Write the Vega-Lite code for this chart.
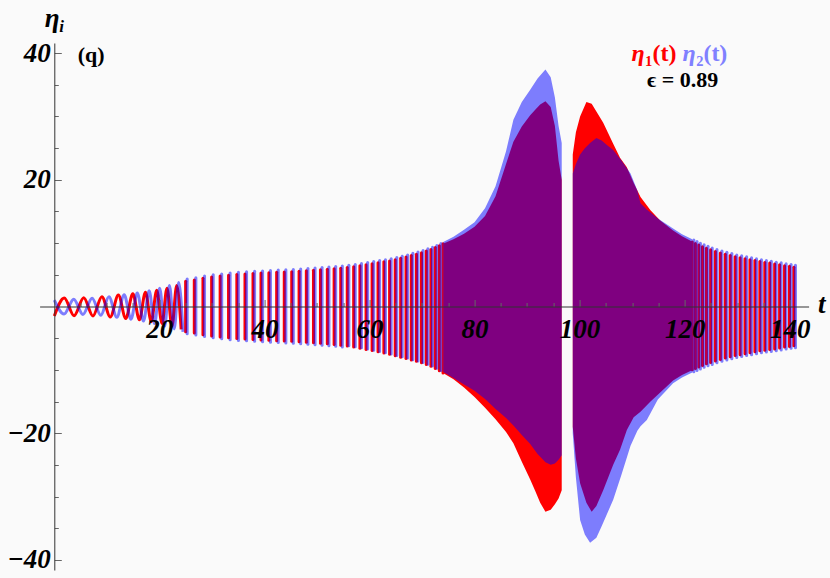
{
  "$schema": "https://vega.github.io/schema/vega-lite/v6.json",
  "autosize": {"type": "none"},
  "padding": {"left": 39.6, "top": 43, "right": 21.4, "bottom": 8},
  "width": 769,
  "height": 527,
  "background": "#FAFAFA",
  "config": {
    "view": {"stroke": null},
    "axis": {
      "grid": false,
      "domainColor": "#333333",
      "domainWidth": 1,
      "tickColor": "#666666",
      "tickWidth": 1,
      "labelFont": "Liberation Serif",
      "labelFontSize": 27,
      "labelFontWeight": "bold",
      "labelFontStyle": "italic",
      "labelColor": "#000000",
      "labelFlush": false,
      "labelOverlap": false
    }
  },
  "datasets": {
    "redLine": [
      {"t": 0, "v": -1.5}, {"t": 1.9, "v": 1.35}, {"t": 3.75, "v": -1.45}, {"t": 5.6, "v": 1.4},
      {"t": 7.35, "v": -1.5}, {"t": 9.05, "v": 1.55}, {"t": 10.65, "v": -1.65}, {"t": 12.2, "v": 1.8},
      {"t": 13.6, "v": -1.9}, {"t": 14.95, "v": 2.0}, {"t": 16.2, "v": -2.1}, {"t": 17.35, "v": 2.25},
      {"t": 18.45, "v": -2.4}, {"t": 19.5, "v": 2.55}, {"t": 20.5, "v": -2.7}, {"t": 21.45, "v": 2.9},
      {"t": 22.4, "v": -3.1}, {"t": 23.3, "v": 3.3}, {"t": 24.15, "v": -3.6}
    ],
    "blueLine": [
      {"t": 0, "v": 1.0}, {"t": 1.85, "v": -1.2}, {"t": 3.7, "v": 1.15}, {"t": 5.45, "v": -1.25},
      {"t": 7.2, "v": 1.3}, {"t": 8.85, "v": -1.4}, {"t": 10.4, "v": 1.55}, {"t": 11.9, "v": -1.7},
      {"t": 13.3, "v": 1.85}, {"t": 14.6, "v": -2.0}, {"t": 15.8, "v": 2.15}, {"t": 16.98, "v": -2.3},
      {"t": 18.05, "v": 2.5}, {"t": 19.08, "v": -2.7}, {"t": 20.05, "v": 2.9}, {"t": 21.0, "v": -3.1},
      {"t": 21.91, "v": 3.3}, {"t": 22.82, "v": -3.55}, {"t": 23.68, "v": 3.8}, {"t": 24.5, "v": -4.0}
    ],
    "redBars": [
      {"t": 25.0, "v2": 4.0, "v": -4.0}, {"t": 26.65, "v2": 4.2, "v": -4.2}, {"t": 28.3, "v2": 4.45, "v": -4.45},
      {"t": 29.95, "v2": 4.65, "v": -4.65}, {"t": 31.57, "v2": 4.8, "v": -4.8}, {"t": 33.17, "v2": 4.95, "v": -4.95},
      {"t": 34.75, "v2": 5.05, "v": -5.05}, {"t": 36.3, "v2": 5.12, "v": -5.12}, {"t": 37.83, "v2": 5.2, "v": -5.2},
      {"t": 39.35, "v2": 5.27, "v": -5.27}, {"t": 40.85, "v2": 5.33, "v": -5.33}, {"t": 42.33, "v2": 5.4, "v": -5.4},
      {"t": 43.78, "v2": 5.45, "v": -5.45}, {"t": 45.2, "v2": 5.5, "v": -5.5}, {"t": 46.6, "v2": 5.57, "v": -5.57},
      {"t": 47.98, "v2": 5.65, "v": -5.65}, {"t": 49.34, "v2": 5.72, "v": -5.72}, {"t": 50.67, "v2": 5.8, "v": -5.8},
      {"t": 51.98, "v2": 5.88, "v": -5.88}, {"t": 53.27, "v2": 5.95, "v": -5.98}, {"t": 54.53, "v2": 6.05, "v": -6.1},
      {"t": 55.77, "v2": 6.15, "v": -6.25}, {"t": 56.99, "v2": 6.28, "v": -6.4}, {"t": 58.18, "v2": 6.42, "v": -6.58},
      {"t": 59.35, "v2": 6.6, "v": -6.78}, {"t": 60.5, "v2": 6.75, "v": -6.95}, {"t": 61.63, "v2": 6.9, "v": -7.15},
      {"t": 62.74, "v2": 7.05, "v": -7.35}, {"t": 63.83, "v2": 7.2, "v": -7.55}, {"t": 64.9, "v2": 7.38, "v": -7.78},
      {"t": 65.94, "v2": 7.6, "v": -8.0}, {"t": 66.96, "v2": 7.8, "v": -8.2}, {"t": 67.96, "v2": 8.05, "v": -8.45},
      {"t": 68.94, "v2": 8.25, "v": -8.65}, {"t": 69.9, "v2": 8.5, "v": -8.9}, {"t": 70.82, "v2": 8.75, "v": -9.15},
      {"t": 71.7, "v2": 9.0, "v": -9.45}, {"t": 72.53, "v2": 9.3, "v": -9.8}, {"t": 73.3, "v2": 9.6, "v": -10.15},
      {"t": 74.0, "v2": 9.9, "v": -10.5},
      {"t": 121.45, "v2": 10.2, "v": -10.0}, {"t": 122.05, "v2": 9.95, "v": -9.8}, {"t": 122.7, "v2": 9.7, "v": -9.55},
      {"t": 123.4, "v2": 9.45, "v": -9.3}, {"t": 124.15, "v2": 9.2, "v": -9.05}, {"t": 124.95, "v2": 8.95, "v": -8.85},
      {"t": 125.85, "v2": 8.7, "v": -8.6}, {"t": 126.8, "v2": 8.45, "v": -8.35}, {"t": 127.74, "v2": 8.25, "v": -8.15},
      {"t": 128.68, "v2": 8.05, "v": -7.95}, {"t": 129.62, "v2": 7.85, "v": -7.75}, {"t": 130.56, "v2": 7.7, "v": -7.6},
      {"t": 131.5, "v2": 7.55, "v": -7.45}, {"t": 132.44, "v2": 7.4, "v": -7.3}, {"t": 133.38, "v2": 7.25, "v": -7.15},
      {"t": 134.32, "v2": 7.1, "v": -7.0}, {"t": 135.26, "v2": 6.95, "v": -6.9}, {"t": 136.2, "v2": 6.85, "v": -6.8},
      {"t": 137.14, "v2": 6.7, "v": -6.7}, {"t": 138.08, "v2": 6.6, "v": -6.55}, {"t": 139.02, "v2": 6.45, "v": -6.4},
      {"t": 139.96, "v2": 6.35, "v": -6.3}, {"t": 140.8, "v2": 6.2, "v": -6.2}
    ],
    "blueBars": [
      {"t": 25.3, "v2": 4.35, "v": -4.3}, {"t": 26.95, "v2": 4.55, "v": -4.5}, {"t": 28.6, "v2": 4.8, "v": -4.75},
      {"t": 30.25, "v2": 5.0, "v": -4.95}, {"t": 31.87, "v2": 5.15, "v": -5.1}, {"t": 33.47, "v2": 5.3, "v": -5.25},
      {"t": 35.05, "v2": 5.4, "v": -5.35}, {"t": 36.6, "v2": 5.47, "v": -5.42}, {"t": 38.13, "v2": 5.55, "v": -5.5},
      {"t": 39.65, "v2": 5.62, "v": -5.57}, {"t": 41.15, "v2": 5.68, "v": -5.63}, {"t": 42.63, "v2": 5.75, "v": -5.7},
      {"t": 44.08, "v2": 5.8, "v": -5.75}, {"t": 45.5, "v2": 5.85, "v": -5.8}, {"t": 46.9, "v2": 5.92, "v": -5.87},
      {"t": 48.28, "v2": 6.0, "v": -5.95}, {"t": 49.64, "v2": 6.07, "v": -6.02}, {"t": 50.97, "v2": 6.15, "v": -6.1},
      {"t": 52.28, "v2": 6.23, "v": -6.18}, {"t": 53.57, "v2": 6.3, "v": -6.28}, {"t": 54.83, "v2": 6.4, "v": -6.4},
      {"t": 56.07, "v2": 6.5, "v": -6.2}, {"t": 57.29, "v2": 6.63, "v": -6.35}, {"t": 58.48, "v2": 6.77, "v": -6.5},
      {"t": 59.65, "v2": 6.95, "v": -6.7}, {"t": 60.8, "v2": 7.1, "v": -6.9}, {"t": 61.93, "v2": 7.25, "v": -7.1},
      {"t": 63.04, "v2": 7.4, "v": -7.3}, {"t": 64.13, "v2": 7.55, "v": -7.5}, {"t": 65.2, "v2": 7.73, "v": -7.72},
      {"t": 66.24, "v2": 7.95, "v": -7.95}, {"t": 67.26, "v2": 8.15, "v": -8.15}, {"t": 68.26, "v2": 8.4, "v": -8.4},
      {"t": 69.24, "v2": 8.6, "v": -8.6}, {"t": 70.2, "v2": 8.85, "v": -8.85}, {"t": 71.12, "v2": 9.1, "v": -9.1},
      {"t": 72.0, "v2": 9.35, "v": -9.4}, {"t": 72.83, "v2": 9.65, "v": -9.75}, {"t": 73.6, "v2": 9.95, "v": -10.1},
      {"t": 121.75, "v2": 10.5, "v": -10.3}, {"t": 122.35, "v2": 10.25, "v": -10.1}, {"t": 123.0, "v2": 10.0, "v": -9.85},
      {"t": 123.7, "v2": 9.75, "v": -9.6}, {"t": 124.45, "v2": 9.5, "v": -9.35}, {"t": 125.25, "v2": 9.25, "v": -9.15},
      {"t": 126.15, "v2": 9.0, "v": -8.9}, {"t": 127.1, "v2": 8.75, "v": -8.65}, {"t": 128.04, "v2": 8.55, "v": -8.45},
      {"t": 128.98, "v2": 8.35, "v": -8.25}, {"t": 129.92, "v2": 8.15, "v": -8.05}, {"t": 130.86, "v2": 8.0, "v": -7.9},
      {"t": 131.8, "v2": 7.85, "v": -7.75}, {"t": 132.74, "v2": 7.7, "v": -7.6}, {"t": 133.68, "v2": 7.55, "v": -7.45},
      {"t": 134.62, "v2": 7.4, "v": -7.3}, {"t": 135.56, "v2": 7.25, "v": -7.2}, {"t": 136.5, "v2": 7.15, "v": -7.1},
      {"t": 137.44, "v2": 7.0, "v": -7.0}, {"t": 138.38, "v2": 6.9, "v": -6.85}, {"t": 139.32, "v2": 6.75, "v": -6.7},
      {"t": 140.26, "v2": 6.65, "v": -6.6}, {"t": 141.1, "v2": 6.5, "v": -6.5}
    ],
    "redEnv": [
      {"seg": 1, "t": 74.0, "v2": 9.9, "v": -10.5}, {"seg": 1, "t": 76, "v2": 10.6, "v": -11.5},
      {"seg": 1, "t": 78, "v2": 11.5, "v": -12.8}, {"seg": 1, "t": 80, "v2": 12.6, "v": -14.3},
      {"seg": 1, "t": 82, "v2": 14.3, "v": -16.0}, {"seg": 1, "t": 84, "v2": 17.4, "v": -17.8},
      {"seg": 1, "t": 86, "v2": 22.5, "v": -19.8}, {"seg": 1, "t": 87.4, "v2": 26.0, "v": -21.6},
      {"seg": 1, "t": 89, "v2": 28.4, "v": -24.5}, {"seg": 1, "t": 90.6, "v2": 30.2, "v": -27.3},
      {"seg": 1, "t": 91.6, "v2": 31.1, "v": -29.2}, {"seg": 1, "t": 92.5, "v2": 31.9, "v": -31.0},
      {"seg": 1, "t": 93.5, "v2": 32.4, "v": -32.4}, {"seg": 1, "t": 94.5, "v2": 31.5, "v": -32.1},
      {"seg": 1, "t": 95.3, "v2": 28.5, "v": -31.2}, {"seg": 1, "t": 96.0, "v2": 23.0, "v": -30.3},
      {"seg": 1, "t": 96.6, "v2": 20.0, "v": -29.0},
      {"seg": 2, "t": 98.7, "v2": 24.0, "v": -19.0}, {"seg": 2, "t": 99.3, "v2": 27.5, "v": -24.0},
      {"seg": 2, "t": 100.1, "v2": 30.0, "v": -27.9}, {"seg": 2, "t": 101.3, "v2": 32.3, "v": -31.0},
      {"seg": 2, "t": 102.3, "v2": 32.0, "v": -32.4}, {"seg": 2, "t": 103.2, "v2": 30.8, "v": -31.5},
      {"seg": 2, "t": 104.5, "v2": 29.0, "v": -29.0}, {"seg": 2, "t": 106.4, "v2": 25.7, "v": -25.0},
      {"seg": 2, "t": 107.7, "v2": 23.5, "v": -22.6}, {"seg": 2, "t": 109.0, "v2": 22.0, "v": -19.5},
      {"seg": 2, "t": 110.3, "v2": 19.5, "v": -17.5}, {"seg": 2, "t": 111.6, "v2": 17.3, "v": -16.6},
      {"seg": 2, "t": 113.5, "v2": 15.2, "v": -15.0}, {"seg": 2, "t": 115.3, "v2": 13.6, "v": -13.6},
      {"seg": 2, "t": 117.8, "v2": 12.0, "v": -11.7}, {"seg": 2, "t": 119.5, "v2": 11.1, "v": -10.8},
      {"seg": 2, "t": 121.3, "v2": 10.3, "v": -10.1}
    ],
    "blueEnv": [
      {"seg": 1, "t": 74.05, "v2": 10.2, "v": -10.35}, {"seg": 1, "t": 76, "v2": 11.0, "v": -11.3},
      {"seg": 1, "t": 78, "v2": 12.1, "v": -12.3}, {"seg": 1, "t": 80, "v2": 13.3, "v": -13.3},
      {"seg": 1, "t": 82, "v2": 15.5, "v": -14.6}, {"seg": 1, "t": 84, "v2": 19.0, "v": -16.2},
      {"seg": 1, "t": 86, "v2": 24.5, "v": -17.6}, {"seg": 1, "t": 87.4, "v2": 29.5, "v": -18.8},
      {"seg": 1, "t": 89, "v2": 32.3, "v": -20.3}, {"seg": 1, "t": 90.6, "v2": 34.2, "v": -21.7},
      {"seg": 1, "t": 92.0, "v2": 36.0, "v": -23.3}, {"seg": 1, "t": 93.5, "v2": 37.4, "v": -24.6},
      {"seg": 1, "t": 94.5, "v2": 36.2, "v": -25.0}, {"seg": 1, "t": 95.3, "v2": 33.0, "v": -24.8},
      {"seg": 1, "t": 96.0, "v2": 28.5, "v": -24.2}, {"seg": 1, "t": 96.6, "v2": 25.8, "v": -23.5},
      {"seg": 2, "t": 98.7, "v2": 21.0, "v": -20.0}, {"seg": 2, "t": 99.3, "v2": 22.5, "v": -27.0},
      {"seg": 2, "t": 100.1, "v2": 24.0, "v": -33.7}, {"seg": 2, "t": 101.0, "v2": 25.0, "v": -36.0},
      {"seg": 2, "t": 102.0, "v2": 25.8, "v": -37.3}, {"seg": 2, "t": 103.2, "v2": 26.6, "v": -36.5},
      {"seg": 2, "t": 104.2, "v2": 26.2, "v": -34.7}, {"seg": 2, "t": 105.2, "v2": 25.5, "v": -32.8},
      {"seg": 2, "t": 106.4, "v2": 24.7, "v": -30.5}, {"seg": 2, "t": 108.0, "v2": 23.0, "v": -26.5},
      {"seg": 2, "t": 109.7, "v2": 21.0, "v": -22.0}, {"seg": 2, "t": 111.0, "v2": 18.3, "v": -19.6},
      {"seg": 2, "t": 111.6, "v2": 16.3, "v": -18.9}, {"seg": 2, "t": 112.8, "v2": 15.3, "v": -17.9},
      {"seg": 2, "t": 114.9, "v2": 13.9, "v": -14.7}, {"seg": 2, "t": 117.8, "v2": 12.3, "v": -12.1},
      {"seg": 2, "t": 119.5, "v2": 11.4, "v": -11.2}, {"seg": 2, "t": 121.45, "v2": 10.6, "v": -10.4}
    ]
  },
  "encoding": {
    "x": {"field": "t", "type": "quantitative", "title": null,
      "scale": {"domain": [-2.8, 143.6], "nice": false, "zero": false},
      "axis": {
        "zindex": 1,
        "values": [5,10,15,20,25,30,35,40,45,50,55,60,65,70,75,80,85,90,95,100,105,110,115,120,125,130,135,140],
        "offset": -263.5,
        "tickSize": {"condition": {"test": "datum.value % 20 === 0", "value": -7}, "value": -4},
        "labelExpr": "datum.value % 20 === 0 ? datum.label : ''",
        "labelBaseline": "alphabetic",
        "labelPadding": 38
      }},
    "y": {"field": "v", "type": "quantitative", "title": null,
      "scale": {"domain": [-41.6, 41.6], "nice": false, "zero": false},
      "axis": {
        "zindex": 1,
        "values": [-40,-35,-30,-25,-20,-15,-10,-5,5,10,15,20,25,30,35,40],
        "offset": -14.7,
        "tickSize": {"condition": {"test": "datum.value % 20 === 0", "value": -7}, "value": -4},
        "labelExpr": "datum.value % 20 === 0 ? datum.label : ''",
        "labelBaseline": "middle",
        "labelPadding": 11
      }}
  },
  "layer": [
    {
      "data": {"name": "redLine"},
      "mark": {"type": "line", "color": "#FF0000", "strokeWidth": 3, "interpolate": "monotone"}
    },
    {
      "data": {"name": "redBars"},
      "mark": {"type": "rule", "color": "#FF0000", "strokeWidth": 3, "strokeCap": "round"},
      "encoding": {"y2": {"field": "v2"}}
    },
    {
      "data": {"name": "redEnv"},
      "mark": {"type": "area", "color": "#FF0000", "opacity": 1},
      "encoding": {"y2": {"field": "v2"}, "detail": {"field": "seg", "type": "nominal"}}
    },
    {
      "data": {"name": "blueLine"},
      "mark": {"type": "line", "color": "#0000FF", "opacity": 0.5, "strokeWidth": 3, "interpolate": "monotone"}
    },
    {
      "data": {"name": "blueBars"},
      "mark": {"type": "rule", "color": "#0000FF", "opacity": 0.5, "strokeWidth": 3, "strokeCap": "round"},
      "encoding": {"y2": {"field": "v2"}}
    },
    {
      "data": {"name": "blueEnv"},
      "mark": {"type": "area", "color": "#0000FF", "opacity": 0.5},
      "encoding": {"y2": {"field": "v2"}, "detail": {"field": "seg", "type": "nominal"}}
    },
    {
      "data": {"values": [{"t": -1.8, "v": 44.1, "s": "η"}, {"t": 145.4, "v": -1.05, "s": "t"}]},
      "mark": {"type": "text", "font": "Liberation Serif", "fontSize": 27, "fontWeight": "bold", "fontStyle": "italic", "color": "#000000", "align": "left", "baseline": "alphabetic"},
      "encoding": {"text": {"field": "s"}}
    },
    {
      "data": {"values": [{"t": 0.95, "v": 43.4, "s": "i"}]},
      "mark": {"type": "text", "font": "Liberation Serif", "fontSize": 17, "fontWeight": "bold", "fontStyle": "italic", "color": "#000000", "align": "left", "baseline": "alphabetic"},
      "encoding": {"text": {"field": "s"}}
    },
    {
      "data": {"values": [{"t": 7.0, "v": 38.6, "s": "(q)"}, {"t": 119.6, "v": 34.7, "s": "ϵ = 0.89"}]},
      "mark": {"type": "text", "font": "Liberation Serif", "fontSize": 22, "fontWeight": "bold", "color": "#000000", "align": "center", "baseline": "alphabetic"},
      "encoding": {"text": {"field": "s"}}
    },
    {
      "data": {"values": [{"t": 109.9, "v": 38.8, "s": "η"}]},
      "mark": {"type": "text", "font": "Liberation Serif", "fontSize": 24, "fontWeight": "bold", "fontStyle": "italic", "color": "#FF0000", "align": "left", "baseline": "alphabetic"},
      "encoding": {"text": {"field": "s"}}
    },
    {
      "data": {"values": [{"t": 112.5, "v": 38.8, "s": "₁(t)"}]},
      "mark": {"type": "text", "font": "Liberation Serif", "fontSize": 24, "fontWeight": "bold", "color": "#FF0000", "align": "left", "baseline": "alphabetic"},
      "encoding": {"text": {"field": "s"}}
    },
    {
      "data": {"values": [{"t": 119.6, "v": 38.8, "s": "η"}]},
      "mark": {"type": "text", "font": "Liberation Serif", "fontSize": 24, "fontWeight": "bold", "fontStyle": "italic", "color": "#8080FF", "align": "left", "baseline": "alphabetic"},
      "encoding": {"text": {"field": "s"}}
    },
    {
      "data": {"values": [{"t": 122.2, "v": 38.8, "s": "₂(t)"}]},
      "mark": {"type": "text", "font": "Liberation Serif", "fontSize": 24, "fontWeight": "bold", "color": "#8080FF", "align": "left", "baseline": "alphabetic"},
      "encoding": {"text": {"field": "s"}}
    }
  ]
}
